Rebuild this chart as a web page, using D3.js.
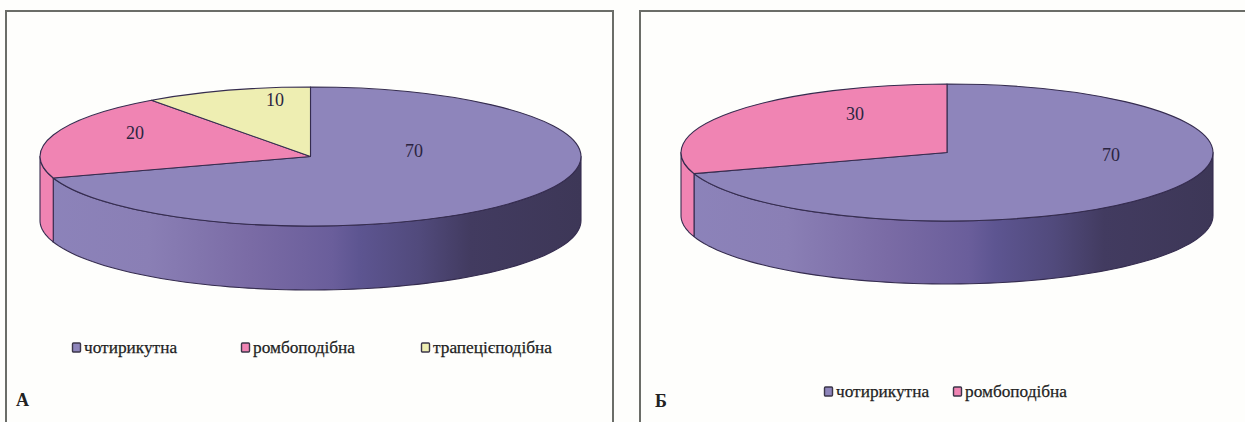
<!DOCTYPE html>
<html lang="uk">
<head>
<meta charset="utf-8">
<script src="https://cdnjs.cloudflare.com/ajax/libs/d3/7.8.5/d3.min.js"></script>
<style>
  html, body { margin: 0; padding: 0; background: #fefefc; overflow: hidden; }
  svg { display: block; font-family: "Liberation Serif", serif; }
</style>
</head>
<body>
<svg id="chart" width="1245" height="422"></svg>
<script>
// Shape shares for the two groups
const categoriesA = ["чотирикутна", "ромбоподібна", "трапецієподібна"];
const valuesA = [70, 20, 10];
const categoriesB = ["чотирикутна", "ромбоподібна"];
const valuesB = [70, 30];

const panelLetters = ["А", "Б"];

const colorByCategory = d3.scaleOrdinal()
  .domain(["чотирикутна", "ромбоподібна", "трапецієподібна"])
  .range(["#8e85bb", "#f084b3", "#eeeeb2"]);

// Panel layouts: frame, ellipse, wall depth, value label anchors and legend entries
const panels = [
  {
    id: "a", letter: panelLetters[0], categories: categoriesA, values: valuesA,
    frame: { x: 6, y: 11, w: 607, h: 430 },
    cx: 310.5, cy: 156.5, rx: 270.5, ry: 69.5, depth: 64,
    labels: [[414, 151], [135, 133], [275, 100]],
    legendY: 348, legendX: [72, 241, 421],
    letterPos: [16, 406]
  },
  {
    id: "b", letter: panelLetters[1], categories: categoriesB, values: valuesB,
    frame: { x: 640, y: 11, w: 640, h: 430 },
    cx: 947, cy: 152.5, rx: 266, ry: 68.5, depth: 63,
    labels: [[1111, 155], [855, 114]],
    legendY: 392, legendX: [824, 953],
    letterPos: [655, 407]
  }
];

const svg = d3.select("#chart");
const defs = svg.append("defs");
const edge = "#352c4f";

// Horizontal shading along the front wall of the purple slice
const wallStops = [
  [0, "#8c83ba"], [0.2, "#8a7fb5"], [0.39, "#7a6ba5"], [0.54, "#6a5e9b"],
  [0.59, "#5d5591"], [0.7, "#514a7c"], [0.795, "#423b60"], [1, "#3d3757"]
];

const pie = d3.pie().sort(null).startAngle(0).endAngle(2 * Math.PI);
const arc = d3.arc().innerRadius(0);

panels.forEach(p => {
  const g = svg.append("g").attr("class", "panel-" + p.id);

  g.append("rect")
    .attr("x", p.frame.x).attr("y", p.frame.y)
    .attr("width", p.frame.w).attr("height", p.frame.h)
    .attr("fill", "#fefefc")
    .attr("stroke", "#6b6d68")
    .attr("stroke-width", 2);

  const gradId = "wall-" + p.id;
  const grad = defs.append("linearGradient")
    .attr("id", gradId)
    .attr("gradientUnits", "userSpaceOnUse")
    .attr("x1", p.cx - p.rx).attr("x2", p.cx + p.rx)
    .attr("y1", 0).attr("y2", 0);
  grad.selectAll("stop").data(wallStops).join("stop")
    .attr("offset", d => d[0])
    .attr("stop-color", d => d[1]);

  const arcs = pie(p.values);
  const px = a => p.cx + p.rx * Math.sin(a);
  const py = a => p.cy - p.ry * Math.cos(a);

  // Front wall: only the part of each slice between 3 and 9 o'clock is visible
  const wallPath = (a0, a1) => {
    const ctx = d3.path();
    const steps = 80;
    const angles = d3.range(steps + 1).map(i => a0 + (a1 - a0) * i / steps);
    angles.forEach((a, i) => i ? ctx.lineTo(px(a), py(a)) : ctx.moveTo(px(a), py(a)));
    angles.slice().reverse().forEach(a => ctx.lineTo(px(a), py(a) + p.depth));
    ctx.closePath();
    return ctx.toString();
  };

  g.append("g").selectAll("path")
    .data(arcs.filter(d => d.endAngle > Math.PI / 2 && d.startAngle < 3 * Math.PI / 2))
    .join("path")
    .attr("d", d => wallPath(Math.max(d.startAngle, Math.PI / 2), Math.min(d.endAngle, 3 * Math.PI / 2)))
    .attr("fill", d => d.index === 0 ? `url(#${gradId})` : colorByCategory(p.categories[d.index]))
    .attr("stroke", edge)
    .attr("stroke-width", 1.1)
    .attr("stroke-linejoin", "round");

  // Top face: a circular pie flattened into an ellipse
  g.append("g")
    .attr("transform", `translate(${p.cx},${p.cy}) scale(1,${p.ry / p.rx})`)
    .selectAll("path").data(arcs).join("path")
    .attr("d", d => arc.outerRadius(p.rx)(d))
    .attr("fill", d => colorByCategory(p.categories[d.index]))
    .attr("stroke", edge)
    .attr("stroke-width", 1.1)
    .attr("stroke-linejoin", "round")
    .attr("vector-effect", "non-scaling-stroke");

  g.append("g").selectAll("text").data(p.values).join("text")
    .attr("x", (d, i) => p.labels[i][0])
    .attr("y", (d, i) => p.labels[i][1])
    .attr("dy", "0.35em")
    .attr("text-anchor", "middle")
    .attr("font-size", 18)
    .attr("fill", "#2b2440")
    .text(d => d);

  const legend = g.append("g").selectAll("g").data(p.categories).join("g")
    .attr("transform", (d, i) => `translate(${p.legendX[i]},${p.legendY})`);
  legend.append("rect")
    .attr("x", 0.5).attr("y", -5)
    .attr("width", 8).attr("height", 9)
    .attr("rx", 1)
    .attr("fill", d => colorByCategory(d))
    .attr("stroke", "#3b3648")
    .attr("stroke-width", 1.4);
  legend.append("text")
    .attr("x", 12).attr("y", 0)
    .attr("dy", "0.3em")
    .attr("font-size", 17.3)
    .attr("fill", "#1f1f1f")
    .attr("stroke", "#1f1f1f")
    .attr("stroke-width", 0.25)
    .text(d => d);

  g.append("text")
    .attr("x", p.letterPos[0]).attr("y", p.letterPos[1])
    .attr("font-size", 18)
    .attr("font-weight", "bold")
    .attr("fill", "#222")
    .text(p.letter);
});
</script>
</body>
</html>
